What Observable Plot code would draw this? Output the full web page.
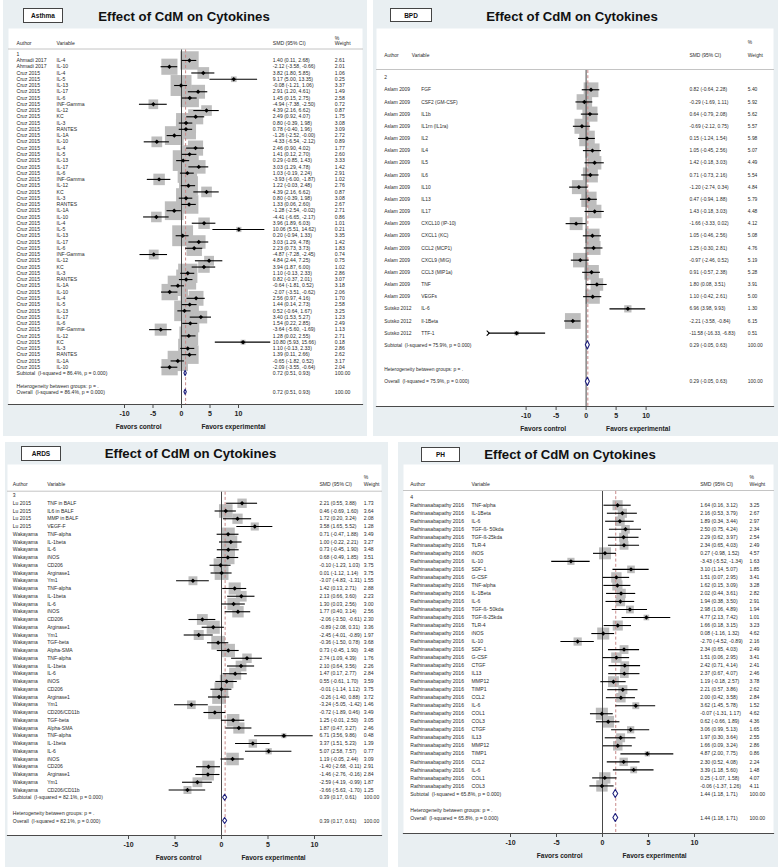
<!DOCTYPE html>
<html><head><meta charset="utf-8">
<script src="https://cdn.jsdelivr.net/npm/d3@7"></script>
<script src="https://cdn.jsdelivr.net/npm/@observablehq/plot@0.6"></script>
<style>
body{margin:0;background:#fff;font-family:"Liberation Sans",Arial,Helvetica,sans-serif;}
#page{position:relative;width:778px;height:868px;overflow:hidden;background:#fff;}
.panel{position:absolute;background:#e9eff2;}
.tag{position:absolute;background:#fff;border:1px solid #444;box-sizing:border-box;font-weight:bold;font-size:6.5px;display:flex;align-items:center;justify-content:center;color:#111;}
.title{position:absolute;transform:translate(-50%,-50%);font-weight:bold;font-size:13.2px;white-space:nowrap;color:#111;}
.chart{position:absolute;}
</style></head><body><div id="page"></div>
<script>
// ---------- shared labels ----------
const chartTitle = "Effect of CdM on Cytokines";
const headerCols = ["Author", "Variable", "SMD (95% CI)", "%", "Weight"];
const xTicks = [-10, -5, 0, 5, 10];
const favorsLeft = "Favors control";
const favorsRight = "Favors experimental";
const hetText = "Heterogeneity between groups: p = .";

// ---------- Asthma ----------
const asthmaAuthor = ["Ahmadi 2017", "Ahmadi 2017", ...Array(48).fill("Cruz 2015")];
const asthmaVariable = ["IL-4","IL-10",
  "IL-4","IL-5","IL-13","IL-17","IL-6","INF-Gamma","IL-12","KC","IL-3","RANTES","IL-1A","IL-10",
  "IL-4","IL-5","IL-13","IL-17","IL-6","INF-Gamma","IL-12","KC","IL-3","RANTES","IL-1A","IL-10",
  "IL-4","IL-5","IL-13","IL-17","IL-6","INF-Gamma","IL-12","KC","IL-3","RANTES","IL-1A","IL-10",
  "IL-4","IL-5","IL-13","IL-17","IL-6","INF-Gamma","IL-12","KC","IL-3","RANTES","IL-1A","IL-10"];
const asthmaEst = [1.40,-2.12,3.82,9.17,-0.08,2.91,1.45,-4.94,4.39,2.49,0.80,0.78,-1.26,-4.33,
  2.46,1.41,0.29,3.03,1.03,-3.93,1.22,4.39,0.80,1.33,-1.28,-4.41,
  3.96,10.06,0.20,3.03,2.23,-4.87,4.84,3.94,1.10,0.82,-0.64,-2.07,
  2.56,1.44,0.52,3.40,1.54,-3.64,1.28,10.80,1.10,1.39,-0.65,-2.09];
const asthmaLo = [0.11,-3.58,1.80,5.00,-1.21,1.20,0.15,-7.38,2.16,0.92,-0.39,-0.40,-2.52,-6.54,
  0.90,0.12,-0.85,1.29,-0.19,-6.00,-0.03,2.16,-0.39,0.06,-2.54,-6.65,
  1.89,5.51,-0.94,1.29,0.73,-7.28,2.44,1.87,-0.13,-0.37,-1.81,-3.51,
  0.97,0.14,-0.64,1.53,0.22,-5.60,0.02,5.93,-0.13,0.11,-1.82,-3.55];
const asthmaHi = [2.68,-0.66,5.85,13.35,1.06,4.61,2.75,-2.50,6.62,4.07,1.98,1.96,-0.004,-2.12,
  4.02,2.70,1.43,4.78,2.24,-1.87,2.48,6.62,1.98,2.60,-0.02,-2.17,
  6.03,14.62,1.33,4.78,3.73,-2.45,7.25,6.00,2.33,2.01,0.52,-0.62,
  4.16,2.73,1.67,5.27,2.85,-1.69,2.55,15.66,2.33,2.66,0.52,-0.64];
const asthmaW = [2.61,2.01,1.06,0.25,3.37,1.49,2.58,0.72,0.87,1.75,3.08,3.09,2.72,0.89,
  1.77,2.60,3.33,1.42,2.91,1.02,2.76,0.87,3.08,2.67,2.71,0.86,
  1.01,0.21,3.35,1.42,1.83,0.74,0.75,1.02,2.86,3.07,3.18,2.06,
  1.70,2.58,3.25,1.23,2.49,1.13,2.71,0.18,2.86,2.62,3.17,2.04];
const asthmaPooled = [0.72, 0.51, 0.93];
const asthmaI2 = "86.4%";

// ---------- BPD ----------
const bpdAuthor = [...Array(18).fill("Aslam 2009"), ...Array(3).fill("Sutsko 2012")];
const bpdVariable = ["FGF","CSF2 (GM-CSF)","IL1b","IL1rn (IL1ra)","IL2","IL4","IL5","IL6","IL10","IL13","IL17",
  "CXCL10 (IP-10)","CXCL1 (KC)","CCL2 (MCP1)","CXCL9 (MIG)","CCL3 (MIP1a)","TNF","VEGFs","IL-6","Il-1Beta","TTF-1"];
const bpdEst = [0.82,-0.29,0.64,-0.69,0.15,1.05,1.42,0.71,-1.20,0.47,1.43,-1.66,1.05,1.25,-0.97,0.91,1.80,1.10,6.96,-2.21,-11.58];
const bpdLo = [-0.64,-1.69,-0.79,-2.12,-1.24,-0.45,-0.18,-0.73,-2.74,-0.94,-0.18,-3.33,-0.46,-0.30,-2.46,-0.57,0.08,-0.42,3.98,-3.58,-16.33];
const bpdHi = [2.28,1.11,2.08,0.75,1.54,2.56,3.03,2.16,0.34,1.88,3.03,0.02,2.56,2.81,0.52,2.38,3.51,2.61,9.93,-0.84,-6.83];
const bpdW = [5.40,5.92,5.62,5.57,5.98,5.07,4.49,5.54,4.84,5.79,4.48,4.12,5.08,4.76,5.19,5.28,3.91,5.00,1.30,6.15,0.51];
const bpdPooled = [0.29, -0.05, 0.63];
const bpdI2 = "75.9%";

// ---------- ARDS ----------
const ardsAuthor = [...Array(4).fill("Lu 2015"), ...Array(34).fill("Wakayama")];
const ardsVariable = ["TNF in BALF","IL6 in BALF","MMP in BALF","VEGF-F",
  "TNF-alpha","IL-1beta","IL-6","iNOS","CD206","Arginase1","Ym1",
  "TNF-alpha","IL-1beta","IL-6","iNOS","CD206","Arginase1","Ym1","TGF-beta","Alpha-SMA",
  "TNF-alpha","IL-1beta","IL-6","iNOS","CD206","Arginase1","Ym1","CD206/CD11b","TGF-beta","Alpha-SMA",
  "TNF-alpha","IL-1beta","IL-6","iNOS","CD206","Arginase1","Ym1","CD206/CD11b"];
const ardsEst = [2.21,0.46,1.72,3.58, 0.71,1.00,0.73,0.68,-0.10,0.01,-3.07,
  1.42,2.13,1.30,1.77,-2.06,-0.89,-2.45,-0.36,0.73,
  2.74,2.10,1.47,0.55,-0.01,-0.26,-3.24,-0.72,1.25,1.87,
  6.71,3.37,5.07,1.19,-1.40,-1.46,-2.59,-3.66];
const ardsLo = [0.55,-0.69,0.20,1.65, -0.47,-0.22,-0.45,-0.49,-1.23,-1.12,-4.83,
  0.13,0.66,0.03,0.40,-3.50,-2.08,-4.01,-1.50,-0.45,
  1.09,0.64,0.17,-0.61,-1.14,-1.40,-5.05,-1.89,-0.01,0.47,
  3.56,1.51,2.58,-0.05,-2.68,-2.76,-4.19,-5.63];
const ardsHi = [3.88,1.60,3.24,5.52, 1.88,2.21,1.90,1.85,1.03,1.14,-1.31,
  2.71,3.60,2.56,3.14,-0.61,0.31,-0.89,0.78,1.90,
  4.39,3.56,2.77,1.70,1.12,0.88,-1.42,0.46,2.50,3.27,
  9.86,5.23,7.57,2.44,-0.11,-0.16,-0.99,-1.70];
const ardsW = [1.73,3.64,2.08,1.28, 3.49,3.27,3.48,3.51,3.75,3.75,1.55,
  2.88,2.23,3.00,2.56,2.30,3.36,1.97,3.68,3.48,
  1.76,2.26,2.84,3.59,3.75,3.72,1.46,3.49,3.05,2.46,
  0.48,1.39,0.77,3.09,2.91,2.84,1.87,1.25];
const ardsPooled = [0.39, 0.17, 0.61];
const ardsI2 = "82.1%";

// ---------- PH ----------
const phAuthor = Array(36).fill("Rathinasabapathy 2016");
const phVariable = ["TNF-alpha","IL-1Beta","IL-6","TGF-ß- 50kda","TGF-ß-25kda","TLR-4","iNOS","IL-10","SDF-1","G-CSF",
  "TNF-alpha","IL-1Beta","IL-6","TGF-ß- 50kda","TGF-ß-25kda","TLR-4","iNOS","IL-10","SDF-1","G-CSF",
  "CTGF","IL13","MMP12","TIMP1","CCL2","IL-6","COL1","COL3",
  "CTGF","IL13","MMP12","TIMP1","CCL2","IL-6","COL1","COL3"];
const phEst = [1.64,2.16,1.89,2.50,2.29,2.34,0.27,-3.43,3.10,1.51,
  1.62,2.02,1.94,2.98,4.77,1.66,0.08,-2.70,2.34,1.51,
  2.42,2.37,1.19,2.21,2.00,3.62,-0.07,0.62,
  3.06,1.97,1.66,4.87,2.30,3.39,0.25,-0.06];
const phLo = [0.16,0.53,0.34,0.75,0.62,0.65,-0.98,-5.52,1.14,0.07,
  0.15,0.44,0.38,1.06,2.13,0.18,-1.16,-4.52,0.65,0.06,
  0.71,0.67,-0.18,0.57,0.42,1.45,-1.31,-0.66,
  0.99,0.30,0.09,2.00,0.52,1.18,-1.07,-1.37];
const phHi = [3.12,3.79,3.44,4.24,3.97,4.03,1.52,-1.34,5.07,2.95,
  3.09,3.61,3.50,4.89,7.42,3.15,1.32,-0.89,4.03,2.95,
  4.14,4.07,2.57,3.86,3.58,5.78,1.17,1.89,
  5.13,3.64,3.24,7.75,4.08,5.60,1.58,1.26];
const phW = [3.25,2.67,2.97,2.34,2.54,2.49,4.57,1.63,1.85,3.41,
  3.28,2.82,2.91,1.94,1.01,3.23,4.62,2.16,2.49,3.41,
  2.41,2.46,3.78,2.62,2.84,1.52,4.62,4.36,
  1.65,2.55,2.86,0.86,2.24,1.48,4.07,4.11];
const phPooled = [1.44, 1.18, 1.71];
const phI2 = "65.8%";

// ---------- panels (data + layout) ----------
const panels = [
  {tag: "Asthma", group: "1", data: {author: asthmaAuthor, variable: asthmaVariable, est: asthmaEst, lo: asthmaLo, hi: asthmaHi, w: asthmaW, pooled: asthmaPooled, i2: asthmaI2},
   box: {x: 3, y: 0, w: 364, h: 436}, tagBox: {x: 20, y: 8, w: 40, h: 15}, titleAt: [181, 16],
   white: {x: 5, y: 28, w: 354}, axisY: 376, below: 32, zero: 173, k: 5.7, row0: 25.7, dy: 6.26,
   sep: 20.5, headY: 13, pctY: 7.5, cols: {author: 8, varHead: 48, variable: 48, smd: 264.3, wt: 326.3},
   fs: 5.1, rMax: 11.8, dh: 2.6},
  {tag: "BPD", group: "2", data: {author: bpdAuthor, variable: bpdVariable, est: bpdEst, lo: bpdLo, hi: bpdHi, w: bpdW, pooled: bpdPooled, i2: bpdI2},
   box: {x: 373, y: 0, w: 405, h: 436}, tagBox: {x: 17, y: 8, w: 42, h: 14}, titleAt: [199, 15.7],
   white: {x: 3, y: 28, w: 397}, axisY: 378, below: 30, zero: 209.6, k: 6.0, row0: 49.1, dy: 12.17,
   sep: 41, headY: 25.3, pctY: 12, cols: {author: 7.7, varHead: 35.3, variable: 44.7, smd: 313, wt: 371.3},
   fs: 4.9, rMax: 8.9, dh: 4.2},
  {tag: "ARDS", group: "3", data: {author: ardsAuthor, variable: ardsVariable, est: ardsEst, lo: ardsLo, hi: ardsHi, w: ardsW, pooled: ardsPooled, i2: ardsI2},
   box: {x: 5, y: 442, w: 383, h: 425}, tagBox: {x: 16, y: 4, w: 40, h: 15}, titleAt: [185.5, 11.3],
   white: {x: 2, y: 22, w: 374}, axisY: 371, below: 30, zero: 214, k: 9.3, row0: 31, dy: 7.75,
   sep: 26.7, headY: 17.7, pctY: 11, cols: {author: 5.3, varHead: 39.7, variable: 39.7, smd: 312, wt: 356.3},
   fs: 5.05, rMax: 7.8, dh: 3},
  {tag: "PH", group: "4", data: {author: phAuthor, variable: phVariable, est: phEst, lo: phLo, hi: phHi, w: phW, pooled: phPooled, i2: phI2},
   box: {x: 398, y: 442, w: 380, h: 425}, tagBox: {x: 23, y: 5, w: 39, h: 15}, titleAt: [172, 12],
   white: {x: 5, y: 22, w: 370}, axisY: 369, below: 30, zero: 199, k: 9.2, row0: 32.7, dy: 8.02,
   sep: 26, headY: 17.7, pctY: 11, cols: {author: 6.7, varHead: 68, variable: 68, smd: 296.7, wt: 346},
   fs: 5.1, rMax: 6.8, dh: 4}
];

const fmt = v => v.toFixed(2);
const arrowBelow = -15;
const ink = "#2a2a2a";

function forest(cfg) {
  const d = cfg.data;
  const n = d.est.length;
  const rows = d.est.map((e, k) => ({
    i: k + 1, author: d.author[k], variable: d.variable[k], est: e, lo: d.lo[k], hi: d.hi[k], w: d.w[k],
    ci: `${fmt(e)} (${fmt(d.lo[k])}, ${fmt(d.hi[k])})`, wt: fmt(d.w[k])
  }));
  const [pe, pl, ph] = d.pooled;
  const iSub = n + 1, iHet = n + 3, iAll = n + 4;
  const pooledRows = [
    {i: iSub, label: `Subtotal\u00a0\u00a0(I-squared = ${d.i2}, p = 0.000)`},
    {i: iAll, label: `Overall\u00a0\u00a0(I-squared = ${d.i2}, p = 0.000)`}
  ].map(r => ({...r, ci: `${fmt(pe)} (${fmt(pl)}, ${fmt(ph)})`, wt: "100.00"}));
  const h = cfg.dh / cfg.dy;
  const diamonds = pooledRows.flatMap(r => [
    {z: r.i, x: pl, y1: r.i, y2: r.i},
    {z: r.i, x: pe, y1: r.i - h, y2: r.i + h},
    {z: r.i, x: ph, y1: r.i, y2: r.i}
  ]);
  const c = cfg.cols;
  const txt = {fontSize: cfg.fs, fill: ink, textAnchor: "start", frameAnchor: "left"};
  const head = (label, dx, dy) => Plot.text([label], {text: d => d, frameAnchor: "top-left", dx, dy, textAnchor: "start", fontSize: cfg.fs, fill: ink});
  const maxW = d3.max(d.w);
  return Plot.plot({
    width: cfg.white.w,
    height: cfg.axisY + cfg.below,
    marginTop: 0, marginLeft: 0, marginRight: 0, marginBottom: cfg.below,
    style: {background: "transparent", fontFamily: "'Liberation Sans', Arial, sans-serif", color: "#333", overflow: "visible"},
    x: {domain: [-10, 10], range: [cfg.zero - 10 * cfg.k, cfg.zero + 10 * cfg.k]},
    y: {domain: [0, iAll], range: [cfg.row0, cfg.row0 + iAll * cfg.dy], axis: null},
    r: {type: "sqrt", domain: [0, maxW], range: [0, cfg.rMax]},
    marks: [
      Plot.frame({fill: "white", stroke: "none"}),
      Plot.frame({anchor: "top", insetTop: cfg.sep, stroke: "#c4c4c4", strokeWidth: 1}),
      Plot.dot(rows, {x: "est", y: "i", r: "w", symbol: "square", fill: "#bdbdbd", stroke: "none"}),
      Plot.ruleX([0], {insetTop: cfg.sep + 1, stroke: "#333", strokeWidth: 0.9}),
      Plot.ruleX([pe], {insetTop: cfg.sep + 1, stroke: "#c98a8a", strokeWidth: 1, strokeDasharray: "3,2.2"}),
      Plot.ruleY(rows.filter(r => r.lo >= arrowBelow), {y: "i", x1: "lo", x2: "hi", stroke: "#000", strokeWidth: 1.1}),
      Plot.link(rows.filter(r => r.lo < arrowBelow), {x1: "lo", x2: "hi", y1: "i", y2: "i", stroke: "#000", strokeWidth: 1.1, markerStart: "arrow"}),
      Plot.dot(rows, {x: "est", y: "i", symbol: "diamond2", r: 2, fill: "#000", stroke: "none"}),
      Plot.areaY(diamonds, {x: "x", y1: "y1", y2: "y2", z: "z", fill: "white", stroke: "#1d1f7c", strokeWidth: 1.1, curve: "linear"}),
      // header
      head(headerCols[0], c.author, cfg.headY),
      head(headerCols[1], c.varHead, cfg.headY),
      head(headerCols[2], c.smd, cfg.headY),
      head(headerCols[3], c.wt, cfg.pctY),
      head(headerCols[4], c.wt, cfg.headY),
      // table
      Plot.text([cfg.group], {text: d => d, y: () => 0, dx: c.author, ...txt}),
      Plot.text(rows, {y: "i", text: "author", dx: c.author, ...txt}),
      Plot.text(rows, {y: "i", text: "variable", dx: c.variable, ...txt}),
      Plot.text(rows, {y: "i", text: "ci", dx: c.smd, ...txt}),
      Plot.text(rows, {y: "i", text: "wt", dx: c.wt, ...txt}),
      Plot.text(pooledRows, {y: "i", text: "label", dx: c.author, ...txt}),
      Plot.text(pooledRows, {y: "i", text: "ci", dx: c.smd, ...txt}),
      Plot.text(pooledRows, {y: "i", text: "wt", dx: c.wt, ...txt}),
      Plot.text([hetText], {text: d => d, y: () => iHet, dx: c.author, ...txt}),
      // axis
      Plot.frame({anchor: "bottom", stroke: "#4a4a4a", strokeWidth: 1.2}),
      Plot.axisX({anchor: "bottom", ticks: xTicks, tickSize: 4, tickPadding: 2.5, fontSize: 7, fontWeight: "bold", tickFormat: v => String(v), label: null, stroke: "#4a4a4a", fill: "#222"}),
      Plot.text([favorsLeft], {text: d => d, x: () => 0, frameAnchor: "bottom", dy: 24, dx: -20, textAnchor: "end", fontSize: 6.6, fontWeight: "bold", fill: "#222"}),
      Plot.text([favorsRight], {text: d => d, x: () => 0, frameAnchor: "bottom", dy: 24, dx: 20, textAnchor: "start", fontSize: 6.6, fontWeight: "bold", fill: "#222"})
    ]
  });
}

const page = document.getElementById("page");
for (const cfg of panels) {
  const p = document.createElement("div");
  p.className = "panel";
  Object.assign(p.style, {left: cfg.box.x + "px", top: cfg.box.y + "px", width: cfg.box.w + "px", height: cfg.box.h + "px"});
  const t = document.createElement("div");
  t.className = "tag";
  t.textContent = cfg.tag;
  Object.assign(t.style, {left: cfg.tagBox.x + "px", top: cfg.tagBox.y + "px", width: cfg.tagBox.w + "px", height: cfg.tagBox.h + "px"});
  const ti = document.createElement("div");
  ti.className = "title";
  ti.textContent = chartTitle;
  Object.assign(ti.style, {left: cfg.titleAt[0] + "px", top: cfg.titleAt[1] + "px"});
  const ch = document.createElement("div");
  ch.className = "chart";
  Object.assign(ch.style, {left: cfg.white.x + "px", top: cfg.white.y + "px", width: cfg.white.w + "px"});
  ch.appendChild(forest(cfg));
  p.append(t, ti, ch);
  page.appendChild(p);
}
</script></body></html>
